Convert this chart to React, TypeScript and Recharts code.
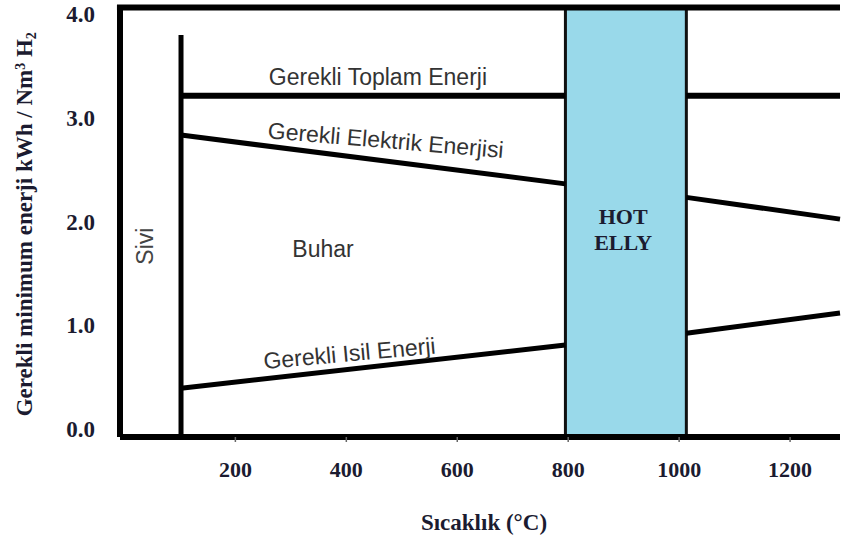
import React from "react"
import {
  ComposedChart,
  Line,
  XAxis,
  YAxis,
  ReferenceArea,
  ReferenceLine,
  ReferenceDot,
  Label
} from "recharts"

// temperature (°C) / energy (kWh / Nm3 H2)
const xTicks = [200, 400, 600, 800, 1000, 1200]
const yTicks = [0, 1, 2, 3, 4]

const liquidBoundary = [
  { t: 102, v: 0 },
  { t: 102, v: 3.875 }
]
const totalBefore = [
  { t: 102, v: 3.29 },
  { t: 795, v: 3.29 }
]
const totalAfter = [
  { t: 1013, v: 3.29 },
  { t: 1290, v: 3.29 }
]
const electricBefore = [
  { t: 102, v: 2.91 },
  { t: 795, v: 2.44 }
]
const electricAfter = [
  { t: 1013, v: 2.31 },
  { t: 1290, v: 2.1 }
]
const heatBefore = [
  { t: 102, v: 0.47 },
  { t: 795, v: 0.887 }
]
const heatAfter = [
  { t: 1013, v: 1.0 },
  { t: 1290, v: 1.195 }
]
const hotEllyRange = [795, 1013]

const notes = [
  { id: "total", text: "Gerekli Toplam Enerji", t: 457, v: 3.39 },
  { id: "electric", text: "Gerekli Elektrik Enerjisi", t: 470, v: 2.785 },
  { id: "heat", text: "Gerekli Isil Enerji", t: 407, v: 0.73 },
  { id: "steam", text: "Buhar", t: 358, v: 1.735 },
  { id: "liquid", text: "Sivi", t: 52, v: 1.84 },
  { id: "hot", text: "HOT", t: 899, v: 2.05 },
  { id: "elly", text: "ELLY", t: 899, v: 1.8 }
]

const SERIF = "'Liberation Serif', 'Times New Roman', serif"
const SANS = "'Liberation Sans', Arial, sans-serif"
const INK = "#1b1b30"

const noteStyle: Record<string, { angle: number; font: string; size: number; weight: number; color: string }> = {
  total: { angle: 0, font: SANS, size: 23, weight: 400, color: "#333" },
  electric: { angle: 4.8, font: SANS, size: 23, weight: 400, color: "#333" },
  heat: { angle: -5.2, font: SANS, size: 23, weight: 400, color: "#333" },
  steam: { angle: 0, font: SANS, size: 23, weight: 400, color: "#333" },
  liquid: { angle: -90, font: SANS, size: 23, weight: 400, color: "#444" },
  hot: { angle: 0, font: SERIF, size: 22, weight: 700, color: INK },
  elly: { angle: 0, font: SERIF, size: 22, weight: 700, color: INK }
}

const segments = [liquidBoundary, totalBefore, totalAfter, electricBefore, electricAfter, heatBefore, heatAfter]
const segmentWidth = [5, 6, 6, 5, 5, 5, 5]

function XTick({ x, y, payload }: any) {
  return (
    <text x={x} y={y} dy="0.71em" textAnchor="middle" fontFamily={SERIF} fontWeight={700} fontSize={22} fill={INK}>
      {payload.value}
    </text>
  )
}

function YTick({ x, y, payload }: any) {
  return (
    <text x={x} y={y} dy={0} textAnchor="end" fontFamily={SERIF} fontWeight={700} fontSize={23} fill={INK}>
      {payload.value.toFixed(1)}
    </text>
  )
}

function noteShape(id: string, text: string) {
  return (props: any) => {
    const s = noteStyle[id]
    const { cx, cy } = props
    return (
      <text
        x={cx}
        y={cy}
        textAnchor="middle"
        transform={`rotate(${s.angle} ${cx} ${cy})`}
        fontFamily={s.font}
        fontSize={s.size}
        fontWeight={s.weight}
        fill={s.color}
      >
        {text}
      </text>
    )
  }
}

export default function App() {
  return (
    <div style={{ position: "absolute", left: 0, top: 0, background: "#fff" }}>
      <ComposedChart width={841} height={541} margin={{ top: 7.5, right: 1, bottom: 44, left: 0 }}>
        <XAxis
          type="number"
          dataKey="t"
          domain={[-8, 1290]}
          ticks={xTicks}
          tick={<XTick />}
          tickSize={5}
          tickMargin={19}
          tickLine={{ stroke: "#666", strokeWidth: 1.5 }}
          axisLine={{ stroke: "#000", strokeWidth: 6 }}
          height={60}
        >
          <Label
            content={({ viewBox }: any) => (
              <text
                x={viewBox.x + viewBox.width / 2 + 4}
                y={viewBox.y + 93}
                textAnchor="middle"
                fontFamily={SERIF}
                fontWeight={700}
                fontSize={23}
                fill={INK}
              >
                Sıcaklık (°C)
              </text>
            )}
          />
        </XAxis>
        <YAxis
          type="number"
          dataKey="v"
          domain={[0, 4.14]}
          ticks={yTicks}
          tick={<YTick />}
          tickLine={false}
          tickSize={0}
          tickMargin={25}
          axisLine={{ stroke: "#000", strokeWidth: 6 }}
          width={120}
        >
          <Label
            content={({ viewBox }: any) => {
              const cx = viewBox.x + 32
              const cy = viewBox.y + viewBox.height / 2 + 2
              return (
                <text
                  x={cx}
                  y={cy}
                  textAnchor="middle"
                  transform={`rotate(-90 ${cx} ${cy})`}
                  fontFamily={SERIF}
                  fontWeight={700}
                  fontSize={23}
                  fill={INK}
                >
                  Gerekli minimum enerji kWh / Nm
                  <tspan dy={-7} fontSize={14}>3</tspan>
                  <tspan dy={7}> H</tspan>
                  <tspan dy={4} fontSize={14}>2</tspan>
                </text>
              )
            }}
          />
        </YAxis>

        <ReferenceArea
          x1={hotEllyRange[0]}
          x2={hotEllyRange[1]}
          y1={0}
          y2={4.14}
          fill="#99d9ea"
          fillOpacity={1}
          stroke="#111"
          strokeWidth={3}
        />
        <ReferenceLine
          segment={[{ x: -13.5, y: 4.14 }, { x: 1290, y: 4.14 }]}
          stroke="#000"
          strokeWidth={6}
          ifOverflow="visible"
        />

        {segments.map((seg, i) => (
          <Line
            key={i}
            data={seg}
            dataKey="v"
            type="linear"
            stroke="#000"
            strokeWidth={segmentWidth[i]}
            dot={false}
            activeDot={false}
            isAnimationActive={false}
          />
        ))}

        {notes.map((n) => (
          <ReferenceDot
            key={n.id}
            x={n.t}
            y={n.v}
            r={1}
            ifOverflow="visible"
            shape={noteShape(n.id, n.text)}
          />
        ))}
      </ComposedChart>
    </div>
  )
}
